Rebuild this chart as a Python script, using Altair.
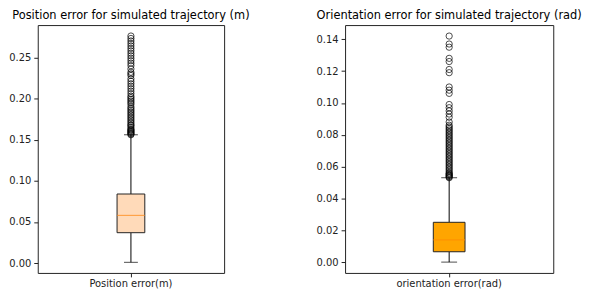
import altair as alt
import pandas as pd

# ---- data ----
pos_label = "Position error(m)"
pos_stats = {"lo": 0.001, "q1": 0.037, "med": 0.058, "q3": 0.084, "hi": 0.156}
pos_outliers = [0.156, 0.157, 0.158, 0.159, 0.160, 0.161, 0.162, 0.163, 0.165, 0.167,
                0.168, 0.170, 0.172, 0.174, 0.176, 0.178, 0.180, 0.182, 0.184, 0.186,
                0.188, 0.190, 0.193, 0.195, 0.197, 0.199, 0.201, 0.203, 0.206, 0.209,
                0.212, 0.215, 0.218, 0.221, 0.224, 0.228, 0.230, 0.232, 0.236, 0.240,
                0.243, 0.246, 0.249, 0.252, 0.255, 0.258, 0.261, 0.264, 0.267, 0.270,
                0.273, 0.276]

ori_label = "orientation error(rad)"
ori_stats = {"lo": 0.0, "q1": 0.0065, "med": 0.014, "q3": 0.025, "hi": 0.053}
ori_outliers = [0.053, 0.0535, 0.054, 0.0545, 0.055, 0.0555, 0.056, 0.057, 0.058, 0.059,
                0.060, 0.061, 0.062, 0.063, 0.064, 0.065, 0.066, 0.067, 0.068, 0.069,
                0.070, 0.071, 0.072, 0.073, 0.074, 0.075, 0.076, 0.077, 0.078, 0.079,
                0.080, 0.081, 0.082, 0.083, 0.084, 0.085, 0.086, 0.088, 0.091, 0.093,
                0.095, 0.097, 0.099, 0.106, 0.108, 0.110, 0.119, 0.121, 0.126, 0.128,
                0.135, 0.137, 0.142]

FONT = "DejaVu Sans"


def panel(label, stats, outliers, fill, median_color, ydomain, ticks, title, width, boxw):
    sdf = pd.DataFrame([{"cat": label, **stats}])
    odf = pd.DataFrame({"cat": [label] * len(outliers), "v": outliers})
    x = alt.X("cat:N", title=None,
              axis=alt.Axis(labelAngle=0, ticks=True, domain=False, labelFontSize=10,
                            labelFont=FONT, labelColor="#222", tickColor="#222",
                            tickSize=4, labelPadding=2),
              scale=alt.Scale(paddingInner=0, paddingOuter=0))
    yscale = alt.Scale(domain=ydomain, nice=False, zero=False)
    yaxis = alt.Axis(values=ticks, format=".2f", grid=False, domain=False, labelFontSize=10,
                     labelFont=FONT, labelColor="#222", tickColor="#222", tickSize=4,
                     labelPadding=3, labelOverlap=False, title=None)

    def Y(field):
        return alt.Y(field, type="quantitative", scale=yscale, axis=yaxis)

    base = alt.Chart(sdf)
    whisk_lo = base.mark_rule(color="black", strokeWidth=1).encode(
        x=x, y=Y("lo"), y2="q1:Q")
    whisk_hi = base.mark_rule(color="black", strokeWidth=1).encode(
        x=x, y=Y("q3"), y2="hi:Q")
    cap_lo = base.mark_tick(color="black", size=boxw / 2, thickness=1, orient="horizontal").encode(
        x=x, y=Y("lo"))
    cap_hi = base.mark_tick(color="black", size=boxw / 2, thickness=1, orient="horizontal").encode(
        x=x, y=Y("hi"))
    box = base.mark_bar(fill=fill, stroke="#222", strokeWidth=1, size=boxw).encode(
        x=x, y=Y("q1"), y2="q3:Q")
    med = base.mark_tick(color=median_color, size=boxw, thickness=1.2, orient="horizontal").encode(
        x=x, y=Y("med"))
    pts = alt.Chart(odf).mark_point(shape="circle", filled=False, color="black",
                                    size=40, strokeWidth=1).encode(x=x, y=Y("v"))
    return alt.layer(whisk_lo, whisk_hi, cap_lo, cap_hi, box, med, pts).properties(
        width=width, height=250,
        title=alt.TitleParams(title, fontSize=11.5, font=FONT, fontWeight="normal",
                              color="black", anchor="middle", offset=4))


left = panel(pos_label, pos_stats, pos_outliers, "#ffdab9", "#ff8c1a",
             [-0.0119, 0.2893], [0.0, 0.05, 0.10, 0.15, 0.20, 0.25],
             "Position error for simulated trajectory (m)", 188, 28)
right = panel(ori_label, ori_stats, ori_outliers, "#ffa500", "#ff8c00",
              [-0.0068, 0.1489], [0.0, 0.02, 0.04, 0.06, 0.08, 0.10, 0.12, 0.14],
              "Orientation error for simulated trajectory (rad)", 210, 32)

chart = alt.hconcat(left, right, spacing=122, bounds="flush").configure_view(
    stroke="#222", strokeWidth=1).properties(padding=0, background="white")

chart.save("out.html", embed_options={"renderer": "svg", "actions": False})
